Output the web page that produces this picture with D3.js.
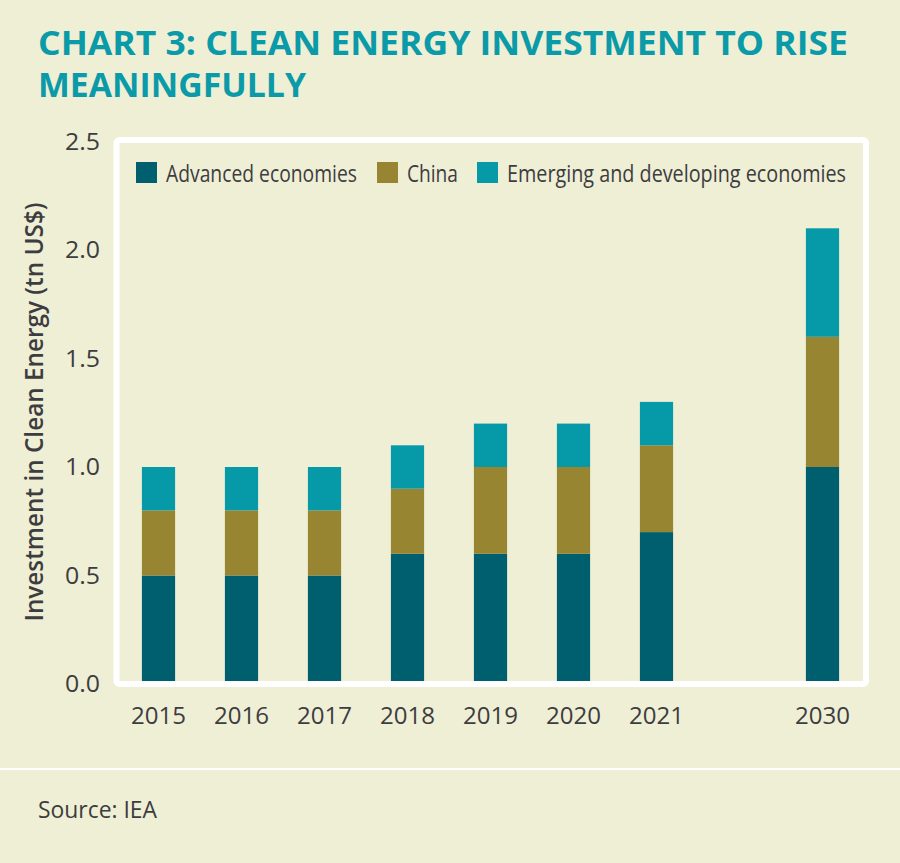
<!DOCTYPE html>
<html><head><meta charset="utf-8">
<script src="https://cdn.jsdelivr.net/npm/d3@7/dist/d3.min.js"></script>
<style>
html,body{margin:0;padding:0;background:#efefd6;}
svg{display:block;}
</style></head>
<body>
<svg id="chart" width="900" height="863"></svg>
<script>
// ---- data ----
const years = ["2015","2016","2017","2018","2019","2020","2021","2030"];
const slots = ["2015","2016","2017","2018","2019","2020","2021","gap","2030"];
const advanced = [0.5,0.5,0.5,0.6,0.6,0.6,0.7,1.0];
const china    = [0.3,0.3,0.3,0.3,0.4,0.4,0.4,0.6];
const emerging = [0.2,0.2,0.2,0.2,0.2,0.2,0.2,0.5];
const seriesNames = ["Advanced economies","China","Emerging and developing economies"];
const seriesColors = ["#005f6f","#978532","#069aa8"];
const yTicks = [0,0.5,1.0,1.5,2.0,2.5];

const svg = d3.select("#chart");
const font = "'Open Sans', 'Noto Sans', sans-serif";
const textCol = "#3d3d3f";

// title
const title = svg.append("g").attr("fill","#0a9aa8").attr("font-family",font).attr("font-weight",700);
title.append("text").attr("x",38).attr("y",55).attr("font-size",34)
  .attr("textLength",810).attr("lengthAdjust","spacingAndGlyphs")
  .text("CHART 3: CLEAN ENERGY INVESTMENT TO RISE");
title.append("text").attr("x",38).attr("y",97).attr("font-size",34)
  .attr("textLength",268).attr("lengthAdjust","spacingAndGlyphs")
  .text("MEANINGFULLY");

// scales
const x = d3.scaleBand().domain(slots).range([117,864]).paddingInner(0.6).paddingOuter(0.3);
const y = d3.scaleLinear().domain([0,2.5]).range([684,141.5]);

// stacked data
const table = years.map((yr,i)=>({year:yr, a:advanced[i], c:china[i], e:emerging[i]}));
const stack = d3.stack().keys(["a","c","e"])(table);

svg.append("g").selectAll("g").data(stack).join("g")
  .attr("fill",(d,i)=>seriesColors[i])
  .selectAll("rect").data(d=>d).join("rect")
  .attr("x",d=>x(d.data.year))
  .attr("width",x.bandwidth())
  .attr("y",d=>y(d[1]))
  .attr("height",d=>y(d[0])-y(d[1]));

// white frame
svg.append("rect").attr("x",116.5).attr("y",140).attr("width",749.5).attr("height",544)
  .attr("rx",3).attr("fill","none").attr("stroke","#ffffff").attr("stroke-width",6);

// y axis
const yAxis = svg.append("g").attr("transform","translate(100,0)")
  .call(d3.axisLeft(y).tickValues(yTicks).tickFormat(d3.format(".1f")).tickSize(0).tickPadding(0));
yAxis.select(".domain").remove();
yAxis.selectAll("text").attr("font-family",font).attr("font-size",24).attr("fill",textCol)
  .attr("textLength",35).attr("lengthAdjust","spacingAndGlyphs");

// x axis
const xAxis = svg.append("g").attr("transform","translate(0,701)")
  .call(d3.axisBottom(x).tickValues(years).tickSize(0).tickPadding(0));
xAxis.select(".domain").remove();
xAxis.selectAll("text").attr("font-family",font).attr("font-size",24).attr("fill",textCol)
  .attr("dy","0.95em").attr("textLength",55).attr("lengthAdjust","spacingAndGlyphs");

// y axis title
svg.append("text").attr("transform","translate(43,412) rotate(-90)")
  .attr("text-anchor","middle").attr("font-family",font).attr("font-weight",600)
  .attr("font-size",26).attr("fill",textCol)
  .attr("textLength",419).attr("lengthAdjust","spacingAndGlyphs")
  .text("Investment in Clean Energy (tn US$)");

// legend
const legX = [136,377,477];
const legW = [191,51,339];
const leg = svg.append("g");
seriesNames.forEach((n,i)=>{
  leg.append("rect").attr("x",legX[i]).attr("y",162).attr("width",21).attr("height",21).attr("fill",seriesColors[i]);
  leg.append("text").attr("x",legX[i]+30).attr("y",182).attr("font-family",font).attr("font-size",24)
    .attr("fill",textCol).attr("textLength",legW[i]).attr("lengthAdjust","spacingAndGlyphs").text(n);
});

// footer
svg.append("line").attr("x1",0).attr("x2",900).attr("y1",769).attr("y2",769)
  .attr("stroke","#ffffff").attr("stroke-width",2);
svg.append("text").attr("x",38).attr("y",818).attr("font-family",font).attr("font-size",24)
  .attr("fill",textCol).attr("textLength",119).attr("lengthAdjust","spacingAndGlyphs").text("Source: IEA");
</script>
</body></html>
